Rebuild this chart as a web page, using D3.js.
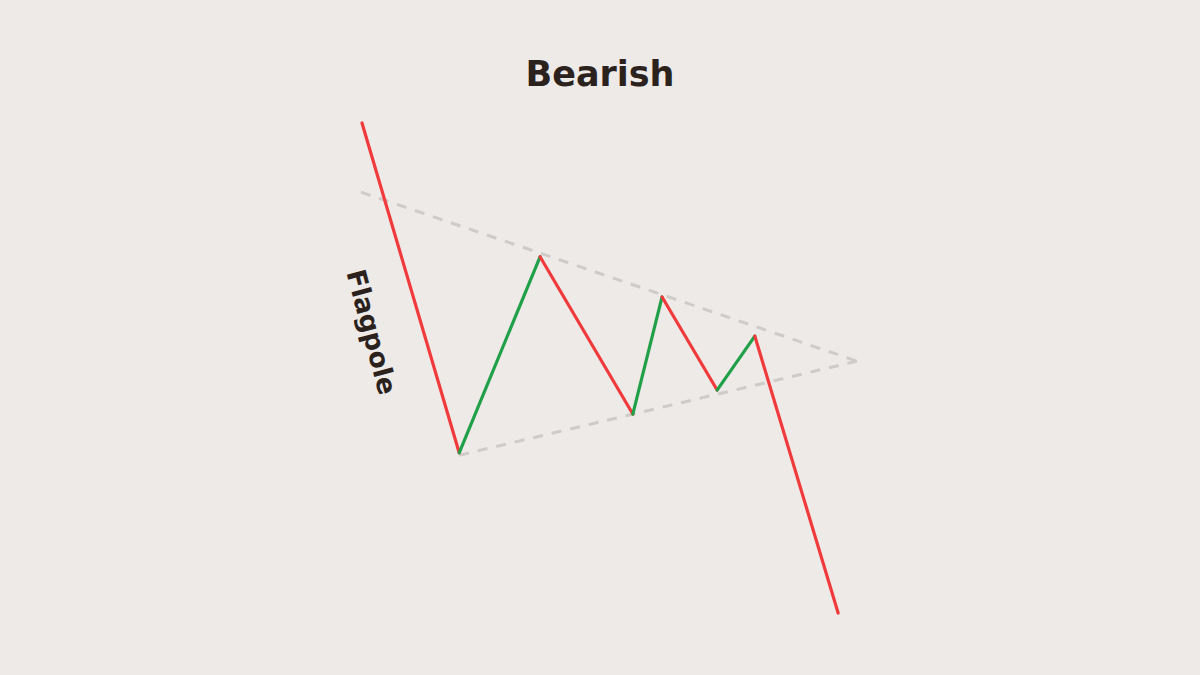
<!DOCTYPE html>
<html>
<head>
<meta charset="utf-8">
<script src="https://cdn.jsdelivr.net/npm/d3@7"></script>
<style>
  html, body { margin: 0; padding: 0; background: #eeeae7; }
  svg { display: block; }
</style>
</head>
<body>
<div id="chart"></div>
<script>
// price path of the bearish pennant (time index, price)
const pathTimes  = [0.2, 19.8, 36.1, 54.8, 60.7, 71.8, 79.4, 96.2];
const pathPrices = [100, 32.7, 72.7, 40.6, 64.5, 45.5, 56.5, 0];

// trend lines converging at the apex
const upperTimes  = [0, 100];
const upperPrices = [85.9, 51.4];
const lowerTimes  = [19.8, 100];
const lowerPrices = [32.2, 51.4];

const titleText = "Bearish";
const poleLabel = "Flagpole";

const W = 1200, H = 675;

const svg = d3.select("#chart").append("svg")
    .attr("width", W)
    .attr("height", H)
    .attr("viewBox", `0 0 ${W} ${H}`);

svg.append("rect").attr("width", W).attr("height", H).attr("fill", "#eeeae7");

const xScale = d3.scaleLinear([0, 100], [361, 857]);
const yScale = d3.scaleLinear([0, 100], [613, 123]);

const line = d3.line()
    .x(d => xScale(d.t))
    .y(d => yScale(d.p));

// dashed trend lines
const trends = [
    upperTimes.map((t, i) => ({ t: t, p: upperPrices[i] })),
    lowerTimes.map((t, i) => ({ t: t, p: lowerPrices[i] }))
];

svg.selectAll(".trend")
    .data(trends)
    .enter()
    .append("path")
    .attr("class", "trend")
    .attr("d", line)
    .attr("fill", "none")
    .attr("stroke", "#cfcbc8")
    .attr("stroke-width", 3)
    .attr("stroke-dasharray", "10 9");

// price segments, green going up and red going down
const points = pathTimes.map((t, i) => ({ t: t, p: pathPrices[i] }));
const segments = d3.pairs(points);

svg.selectAll(".seg")
    .data(segments)
    .enter()
    .append("path")
    .attr("class", "seg")
    .attr("d", line)
    .attr("fill", "none")
    .attr("stroke", d => d[1].p > d[0].p ? "#21a04a" : "#f03a3c")
    .attr("stroke-width", 3.2)
    .attr("stroke-linecap", "round");

// title
svg.append("text")
    .attr("x", 600)
    .attr("y", 86)
    .attr("text-anchor", "middle")
    .attr("font-family", "'DejaVu Sans', sans-serif")
    .attr("font-weight", 700)
    .attr("font-size", 35)
    .attr("fill", "#2b221d")
    .text(titleText);

// flagpole label, tilted along the pole
svg.append("text")
    .attr("transform", "translate(372,332) rotate(75)")
    .attr("text-anchor", "middle")
    .attr("dominant-baseline", "central")
    .attr("font-family", "'DejaVu Sans', sans-serif")
    .attr("font-weight", 700)
    .attr("font-size", 26.5)
    .attr("fill", "#2b221d")
    .text(poleLabel);
</script>
</body>
</html>
